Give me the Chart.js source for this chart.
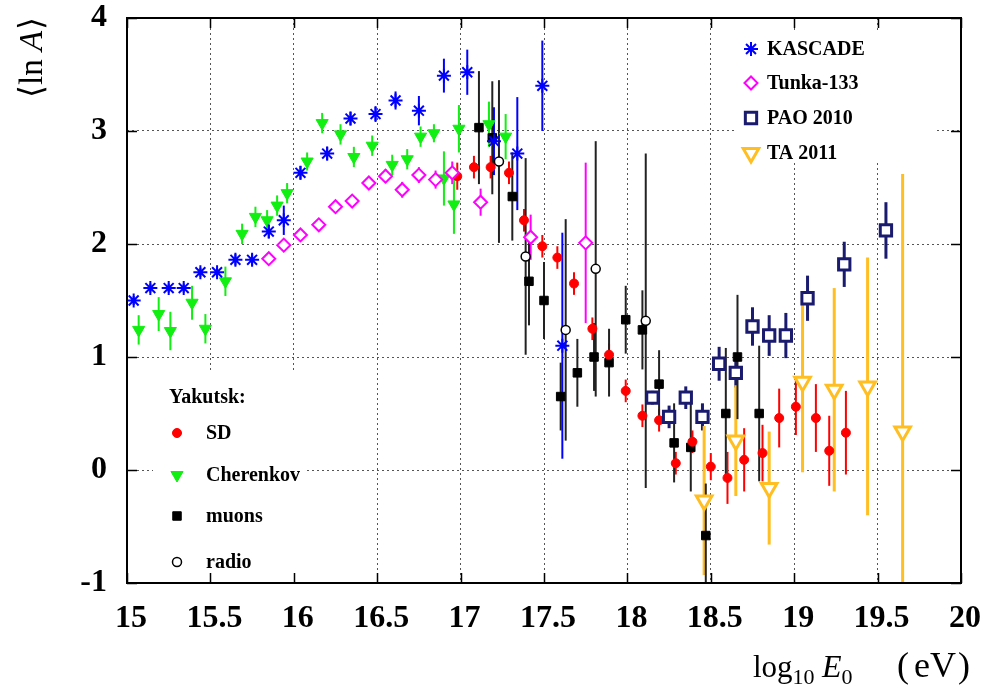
<!DOCTYPE html>
<html>
<head>
<meta charset="utf-8">
<script src="https://cdn.jsdelivr.net/npm/chart.js@4.4.1/dist/chart.umd.min.js"></script>
<style>
    html, body { margin: 0; padding: 0; background: #fff; }
    #wrap { width: 985px; height: 695px; position: relative; }
</style>
</head>
<body>
<div id="wrap"><canvas id="c"></canvas></div>
<script>
// ─── Data ────────────────────────────────────────────────────────────────────

const kascadeX = [15.04, 15.14, 15.25, 15.34, 15.44, 15.54, 15.65, 15.75, 15.85, 15.94, 16.04, 16.20, 16.34, 16.49, 16.61, 16.75, 16.90, 17.04, 17.20, 17.34, 17.49, 17.61];
const kascadeY = [1.50, 1.61, 1.61, 1.61, 1.75, 1.75, 1.86, 1.86, 2.11, 2.21, 2.63, 2.80, 3.11, 3.15, 3.27, 3.18, 3.49, 3.52, 2.91, 2.80, 3.40, 1.10];
const kascadeErr = [0.04, 0.04, 0.04, 0.04, 0.04, 0.04, 0.05, 0.05, 0.06, 0.13, 0.06, 0.06, 0.06, 0.07, 0.08, 0.13, 0.15, 0.20, 0.30, 0.50, 0.40, 1.00];

const tunkaX = [15.85, 15.94, 16.04, 16.15, 16.25, 16.35, 16.45, 16.55, 16.65, 16.75, 16.85, 16.95, 17.12, 17.42, 17.75];
const tunkaY = [1.87, 1.99, 2.08, 2.17, 2.33, 2.38, 2.54, 2.60, 2.48, 2.61, 2.57, 2.63, 2.37, 2.06, 2.01];
const tunkaErr = [0.03, 0.03, 0.03, 0.04, 0.04, 0.04, 0.05, 0.06, 0.07, 0.07, 0.08, 0.10, 0.12, 0.20, 0.71];

const paoX = [18.15, 18.25, 18.35, 18.45, 18.55, 18.65, 18.75, 18.85, 18.95, 19.08, 19.30, 19.55];
const paoY = [0.64, 0.47, 0.64, 0.47, 0.94, 0.86, 1.27, 1.19, 1.19, 1.52, 1.82, 2.12];
const paoErr = [0.06, 0.10, 0.10, 0.12, 0.15, 0.13, 0.17, 0.18, 0.20, 0.20, 0.20, 0.25];

const taX = [18.46, 18.65, 18.85, 19.05, 19.24, 19.44, 19.65];
const taY = [-0.27, 0.26, -0.16, 0.78, 0.71, 0.74, 0.34];
const taErr = [0.66, 0.49, 0.50, 0.80, 0.90, 1.14, 2.28];

const sdX = [16.98, 17.08, 17.18, 17.29, 17.38, 17.49, 17.58, 17.68, 17.79, 17.89, 17.99, 18.09, 18.19, 18.29, 18.39, 18.50, 18.60, 18.70, 18.81, 18.91, 19.01, 19.13, 19.21, 19.31];
const sdY = [2.60, 2.68, 2.68, 2.63, 2.21, 1.98, 1.88, 1.65, 1.25, 1.02, 0.70, 0.48, 0.44, 0.06, 0.25, 0.03, -0.07, 0.09, 0.15, 0.46, 0.56, 0.46, 0.17, 0.33];
const sdErr = [0.12, 0.10, 0.10, 0.10, 0.10, 0.10, 0.10, 0.10, 0.10, 0.10, 0.10, 0.10, 0.10, 0.10, 0.10, 0.12, 0.23, 0.28, 0.25, 0.26, 0.25, 0.30, 0.31, 0.37];

const cherX = [15.07, 15.19, 15.26, 15.39, 15.47, 15.59, 15.69, 15.77, 15.84, 15.90, 15.96, 16.08, 16.17, 16.28, 16.36, 16.47, 16.59, 16.68, 16.76, 16.84, 16.90, 16.96, 16.99, 17.17, 17.27];
const cherY = [1.24, 1.38, 1.23, 1.48, 1.25, 1.67, 2.09, 2.24, 2.21, 2.34, 2.45, 2.73, 3.07, 2.97, 2.77, 2.87, 2.70, 2.75, 2.95, 2.98, 2.58, 2.35, 3.02, 3.06, 2.95];
const cherErr = [0.13, 0.15, 0.17, 0.15, 0.13, 0.13, 0.09, 0.09, 0.09, 0.09, 0.09, 0.08, 0.09, 0.09, 0.09, 0.09, 0.09, 0.09, 0.09, 0.08, 0.24, 0.26, 0.21, 0.20, 0.20];

const muonX = [17.11, 17.19, 17.31, 17.41, 17.50, 17.60, 17.70, 17.80, 17.89, 17.99, 18.09, 18.19, 18.28, 18.38, 18.47, 18.59, 18.66, 18.79];
const muonY = [3.03, 2.94, 2.42, 1.67, 1.50, 0.65, 0.86, 1.00, 0.95, 1.33, 1.24, 0.76, 0.24, 0.20, -0.58, 0.50, 1.00, 0.50];
const muonErr = [0.50, 0.50, 0.39, 0.39, 0.34, 0.30, 0.30, 0.30, 0.30, 0.30, 0.35, 0.30, 0.35, 0.39, 0.46, 0.58, 0.55, 0.60];

const radioX = [17.23, 17.39, 17.63, 17.81, 18.11];
const radioY = [2.73, 1.89, 1.24, 1.78, 1.32];
const radioErr = [0.72, 0.87, 0.98, 1.13, 1.48];

const xTicks = [15, 15.5, 16, 16.5, 17, 17.5, 18, 18.5, 19, 19.5, 20];
const yTicks = [-1, 0, 1, 2, 3, 4];

// ─── Helpers ─────────────────────────────────────────────────────────────────

const SERIF = "'Liberation Serif', 'Times New Roman', serif";
const pts = (xs, ys) => xs.map((x, i) => ({ x, y: ys[i] }));

function series(label, xs, ys, err, style) {
    return {
        label,
        data: pts(xs, ys),
        err,
        pointStyle: style.shape,
        pointRotation: style.rotation || 0,
        pointRadius: style.radius,
        pointBackgroundColor: style.fill,
        pointBorderColor: style.stroke,
        pointBorderWidth: style.width,
        errColor: style.errColor || style.stroke,
        errWidth: style.errWidth || 2,
        showLine: false,
    };
}

const datasets = [
    series("KASCADE", kascadeX, kascadeY, kascadeErr,
        { shape: "star", radius: 7, fill: "rgba(0,0,0,0)", stroke: "#0000ff", width: 2 }),
    series("Tunka-133", tunkaX, tunkaY, tunkaErr,
        { shape: "rectRot", radius: 6.5, fill: "#ffffff", stroke: "#ff00ff", width: 2 }),
    series("PAO 2010", paoX, paoY, paoErr,
        { shape: "rect", radius: 8, fill: "#ffffff", stroke: "#1a1a6e", width: 3, errWidth: 3 }),
    series("TA 2011", taX, taY, taErr,
        { shape: "triangle", rotation: 180, radius: 9, fill: "#ffffff", stroke: "#ffbe22", width: 3, errWidth: 3 }),
    series("SD", sdX, sdY, sdErr,
        { shape: "circle", radius: 4.5, fill: "#ff0000", stroke: "#ff0000", width: 1 }),
    series("Cherenkov", cherX, cherY, cherErr,
        { shape: "triangle", rotation: 180, radius: 7, fill: "#11ee11", stroke: "#11ee11", width: 1 }),
    series("muons", muonX, muonY, muonErr,
        { shape: "rect", radius: 6, fill: "#000000", stroke: "#000000", width: 1, errColor: "#222222" }),
    series("radio", radioX, radioY, radioErr,
        { shape: "circle", radius: 4.5, fill: "#ffffff", stroke: "#000000", width: 1.5, errColor: "#222222" }),
];

function marker(ctx, ds, x, y) {
    ctx.save();
    ctx.fillStyle = ds.pointBackgroundColor;
    ctx.strokeStyle = ds.pointBorderColor;
    ctx.lineWidth = ds.pointBorderWidth;
    Chart.helpers.drawPoint(ctx, {
        pointStyle: ds.pointStyle,
        rotation: ds.pointRotation,
        radius: ds.pointRadius,
        borderWidth: ds.pointBorderWidth,
    }, x, y);
    ctx.restore();
}

// ─── Plugins ─────────────────────────────────────────────────────────────────

// white panels behind the two legends, then vertical error bars
const errorBars = {
    id: "errorBars",
    beforeDatasetsDraw(chart) {
        const { ctx, chartArea: a, scales: { x, y } } = chart;
        ctx.save();
        ctx.fillStyle = "#ffffff";
        ctx.fillRect(737, 33, 199, 130);
        ctx.fillRect(153, 372, 152, a.bottom - 372);

        ctx.beginPath();
        ctx.rect(a.left, a.top, a.right - a.left, a.bottom - a.top);
        ctx.clip();
        chart.data.datasets.forEach((ds) => {
            ctx.strokeStyle = ds.errColor;
            ctx.lineWidth = ds.errWidth;
            ds.data.forEach((p, j) => {
                const e = ds.err[j];
                const px = x.getPixelForValue(p.x);
                ctx.beginPath();
                ctx.moveTo(px, y.getPixelForValue(p.y - e));
                ctx.lineTo(px, y.getPixelForValue(p.y + e));
                ctx.stroke();
            });
        });
        ctx.restore();
    },
};

// frame, inward ticks, legends, axis titles
const decorations = {
    id: "decorations",
    afterDraw(chart) {
        const { ctx, chartArea: a, scales: { x, y } } = chart;
        const ds = chart.data.datasets;
        ctx.save();

        ctx.strokeStyle = "#000";
        ctx.lineWidth = 1.5;
        xTicks.forEach((v) => {
            const px = Math.round(x.getPixelForValue(v)) + 0.5;
            ctx.beginPath();
            ctx.moveTo(px, a.bottom); ctx.lineTo(px, a.bottom - 10);
            ctx.moveTo(px, a.top); ctx.lineTo(px, a.top + 10);
            ctx.stroke();
        });
        yTicks.forEach((v) => {
            const py = Math.round(y.getPixelForValue(v)) + 0.5;
            ctx.beginPath();
            ctx.moveTo(a.left, py); ctx.lineTo(a.left + 10, py);
            ctx.moveTo(a.right, py); ctx.lineTo(a.right - 10, py);
            ctx.stroke();
        });
        ctx.lineWidth = 2;
        ctx.strokeRect(a.left, a.top, a.right - a.left, a.bottom - a.top);

        // top-right legend
        ctx.fillStyle = "#000";
        ctx.font = "bold 20px " + SERIF;
        ctx.textBaseline = "middle";
        ctx.textAlign = "left";
        [[0, 49], [1, 83], [2, 118], [3, 153]].forEach(([i, ly]) => {
            marker(ctx, ds[i], 751, ly);
            ctx.fillStyle = "#000";
            ctx.fillText(ds[i].label, 767, ly + 1);
        });

        // Yakutsk legend
        ctx.fillText("Yakutsk:", 169, 398);
        [[4, 433], [5, 475], [6, 516], [7, 562]].forEach(([i, ly]) => {
            marker(ctx, ds[i], 177, ly);
            ctx.fillStyle = "#000";
            ctx.fillText(ds[i].label, 206, ly + 1);
        });

        // y-axis title, rotated
        ctx.save();
        ctx.translate(42, 98);
        ctx.rotate(-Math.PI / 2);
        ctx.textBaseline = "alphabetic";
        let cx = 0;
        ctx.font = "33px " + SERIF;
        ctx.fillText("\u27E8ln ", cx, 0);
        cx += ctx.measureText("\u27E8ln ").width;
        ctx.font = "italic 33px " + SERIF;
        ctx.fillText("A", cx, 0);
        cx += ctx.measureText("A").width + 1;
        ctx.font = "33px " + SERIF;
        ctx.fillText("\u27E9", cx, 0);
        ctx.restore();

        // x-axis title
        ctx.textBaseline = "alphabetic";
        let tx = 753;
        const base = 677;
        const part = (txt, font, dy) => {
            ctx.font = font;
            ctx.fillText(txt, tx, base + dy);
            tx += ctx.measureText(txt).width;
        };
        part("log", "31px " + SERIF, 0);
        part("10", "22px " + SERIF, 7);
        tx = 822;
        part("E", "italic 32px " + SERIF, 0);
        part("0", "22px " + SERIF, 7);
        tx = 897;
        part("(", "36px " + SERIF, 0);
        tx += 5;
        part("eV", "36px " + SERIF, 0);
        tx += 2;
        part(")", "36px " + SERIF, 0);

        ctx.restore();
    },
};

// ─── Chart ───────────────────────────────────────────────────────────────────

const tickFont = { family: SERIF, size: 32, weight: "bold" };

new Chart(document.getElementById("c"), {
    type: "scatter",
    data: { datasets },
    plugins: [errorBars, decorations],
    options: {
        responsive: true,
        maintainAspectRatio: false,
        animation: false,
        events: [],
        layout: { padding: { top: 18, right: 24, left: 0, bottom: 0 } },
        plugins: { legend: { display: false }, tooltip: { enabled: false } },
        scales: {
            x: {
                type: "linear",
                min: 15,
                max: 20,
                afterFit: (s) => { s.height = 112; s.paddingLeft = 0; s.paddingRight = 0; },
                afterBuildTicks: (s) => { s.ticks = xTicks.map((v) => ({ value: v })); },
                ticks: { color: "#000", font: tickFont, padding: 17, labelOffset: 4, maxRotation: 0,
                         autoSkip: false, callback: (v) => String(v) },
                grid: { color: "#555", lineWidth: 1, drawTicks: false },
                border: { display: false, dash: [2, 3] },
            },
            y: {
                type: "linear",
                min: -1,
                max: 4,
                afterFit: (s) => { s.width = 127; s.paddingTop = 0; s.paddingBottom = 0; },
                afterBuildTicks: (s) => { s.ticks = yTicks.map((v) => ({ value: v })); },
                ticks: { color: "#000", font: tickFont, padding: 20, callback: (v) => String(v) },
                grid: { color: "#555", lineWidth: 1, drawTicks: false },
                border: { display: false, dash: [2, 3] },
            },
        },
    },
});
</script>
</body>
</html>
